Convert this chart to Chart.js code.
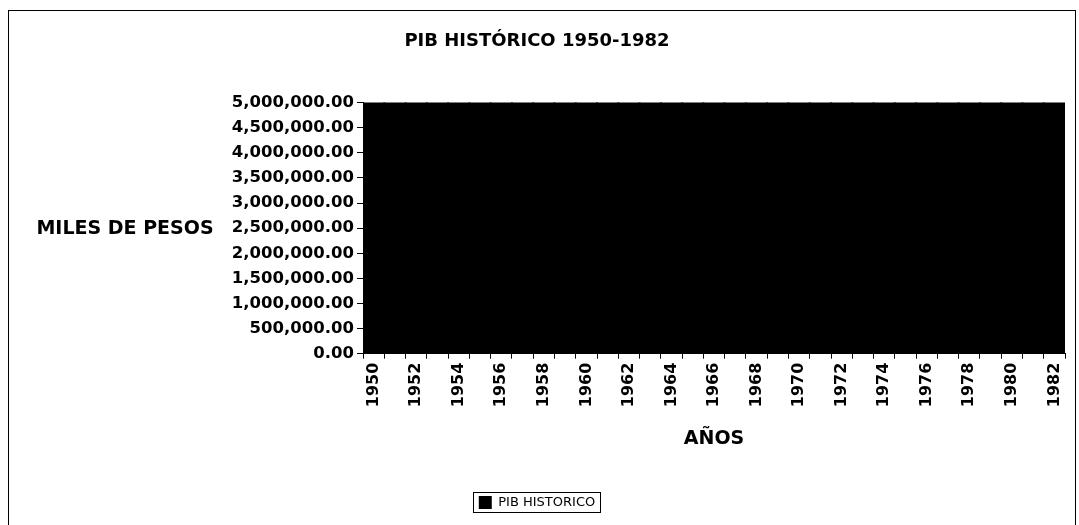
<!doctype html>
<html lang="es">
    <head>
        <meta charset="utf-8">
        <script src="https://cdn.jsdelivr.net/npm/chart.js@4/dist/chart.umd.min.js"></script>
        <title>PIB HISTÓRICO 1950-1982</title>
        <style>
        html, body {
            margin: 0;
            padding: 0;
            background-color: #ffffff;
            overflow: hidden;
        }
        #frame {
            position: absolute;
            left: 8px;
            top: 10px;
            width: 1066px;
            height: 520px;
            border: 1px solid #000000;
        }
        </style>
    </head>
    <body>
        <div id="frame">
            <canvas id="chart" width="1066" height="520"></canvas>
        </div>
        <script>
        // datos (miles de pesos)
        const years = ['1950', '1951', '1952', '1953', '1954', '1955', '1956', '1957', '1958', '1959',
            '1960', '1961', '1962', '1963', '1964', '1965', '1966', '1967', '1968', '1969',
            '1970', '1971', '1972', '1973', '1974', '1975', '1976', '1977', '1978', '1979',
            '1980', '1981', '1982'];
        const pib = [5000000, 5000000, 5000000, 5000000, 5000000, 5000000, 5000000, 5000000, 5000000, 5000000,
            5000000, 5000000, 5000000, 5000000, 5000000, 5000000, 5000000, 5000000, 5000000, 5000000,
            5000000, 5000000, 5000000, 5000000, 5000000, 5000000, 5000000, 5000000, 5000000, 5000000,
            5000000, 5000000, 5000000];
        const yMax = 5000000;
        const yStep = 500000;

        const fontFamily = "'DejaVu Sans', sans-serif";

        // titulo horizontal del eje Y
        const yTitlePlugin = {
            id: 'yTitle',
            afterDraw(chart) {
                const ctx = chart.ctx;
                const area = chart.chartArea;
                ctx.save();
                ctx.font = 'bold 19px ' + fontFamily;
                ctx.fillStyle = '#000000';
                ctx.textAlign = 'center';
                ctx.textBaseline = 'middle';
                ctx.fillText('MILES DE PESOS', 116, (area.top + area.bottom) / 2 + 1);
                ctx.restore();
            }
        };

        // marco alrededor de la leyenda
        const legendFramePlugin = {
            id: 'legendFrame',
            afterDraw(chart) {
                const boxes = chart.legend.legendHitBoxes;
                if (!boxes || !boxes.length) return;
                const h = boxes[0];
                const ctx = chart.ctx;
                ctx.save();
                ctx.strokeStyle = '#000000';
                ctx.lineWidth = 1;
                ctx.strokeRect(Math.round(h.left) - 5.5, Math.round(h.top) - 3.5, Math.round(h.width) + 11, Math.round(h.height) + 7);
                ctx.restore();
            }
        };

        const chart = new Chart(document.getElementById('chart'), {
            type: 'bar',
            data: {
                labels: years,
                datasets: [{
                    label: 'PIB HISTORICO',
                    data: pib,
                    backgroundColor: '#000000',
                    borderWidth: 0,
                    inflateAmount: 1,
                    barPercentage: 1,
                    categoryPercentage: 1
                }]
            },
            options: {
                responsive: false,
                animation: false,
                layout: {
                    padding: { left: 0, right: 10, top: 0, bottom: 12 }
                },
                plugins: {
                    title: {
                        display: true,
                        text: 'PIB HISTÓRICO 1950-1982',
                        color: '#000000',
                        font: { family: fontFamily, size: 18, weight: 'bold' },
                        padding: { top: 20, bottom: 50 }
                    },
                    legend: {
                        position: 'bottom',
                        labels: {
                            color: '#000000',
                            boxWidth: 13,
                            boxHeight: 13,
                            padding: 10,
                            font: { family: fontFamily, size: 13 }
                        }
                    },
                    tooltip: { enabled: false }
                },
                scales: {
                    x: {
                        offset: true,
                        afterFit: function (scale) {
                            scale.paddingLeft = 0;
                            scale.paddingRight = 0;
                        },
                        grid: {
                            display: true,
                            offset: true,
                            drawOnChartArea: false,
                            color: '#000000',
                            tickLength: 5
                        },
                        border: { display: true, color: '#000000' },
                        ticks: {
                            autoSkip: false,
                            minRotation: 90,
                            maxRotation: 90,
                            padding: 4,
                            color: '#000000',
                            font: { family: fontFamily, size: 16, weight: 'bold' },
                            callback: function (value, index) {
                                return index % 2 === 0 ? this.getLabelForValue(value) : '';
                            }
                        },
                        title: {
                            display: true,
                            text: 'AÑOS',
                            color: '#000000',
                            font: { family: fontFamily, size: 19, weight: 'bold' },
                            padding: { top: 16, bottom: 36 }
                        }
                    },
                    y: {
                        min: 0,
                        max: yMax,
                        afterFit: function (scale) {
                            scale.width = 354;
                        },
                        grid: {
                            display: true,
                            drawOnChartArea: false,
                            color: '#000000',
                            tickLength: 6
                        },
                        border: { display: true, color: '#000000' },
                        ticks: {
                            stepSize: yStep,
                            padding: 3,
                            color: '#000000',
                            font: { family: fontFamily, size: 16.5, weight: 'bold' },
                            callback: function (value) {
                                return value.toLocaleString('en-US', { minimumFractionDigits: 2, maximumFractionDigits: 2 });
                            }
                        }
                    }
                }
            },
            plugins: [yTitlePlugin, legendFramePlugin]
        });
        </script>
    </body>
</html>
